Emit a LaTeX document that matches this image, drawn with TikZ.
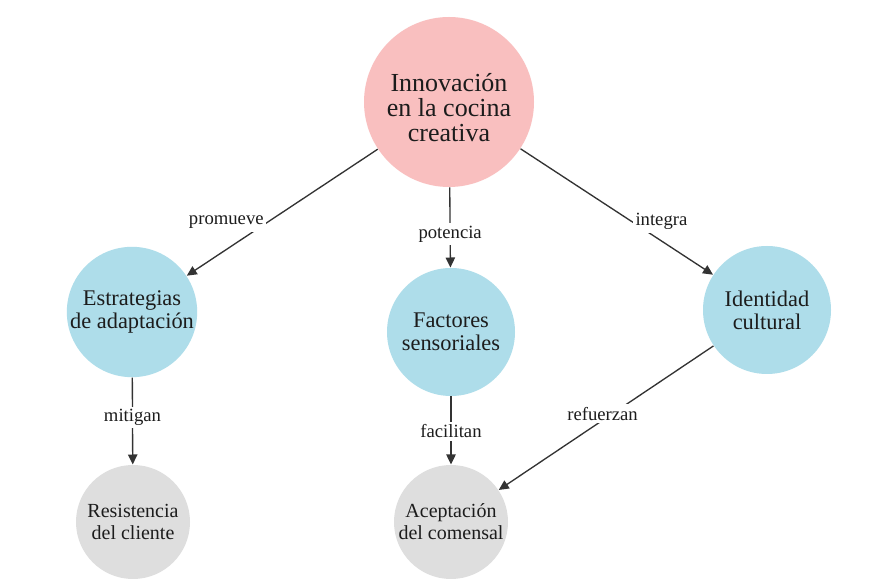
\documentclass[tikz,border=0pt]{standalone}
\usepackage{fontspec}
\setmainfont{Liberation Serif}
\usetikzlibrary{arrows.meta}

\definecolor{rootpink}{RGB}{249,191,191}
\definecolor{midblue}{RGB}{174,221,234}
\definecolor{leafgray}{RGB}{222,222,222}
\definecolor{edgegray}{RGB}{51,51,51}
\definecolor{inkblack}{RGB}{28,28,28}

\tikzset{every picture/.style={line width=0.75pt}}
\tikzset{
  rootnode/.style={circle, fill=rootpink, minimum size=127.5pt, inner sep=0pt, align=center, text=inkblack, text height=60pt, text depth=0pt, font=\fontsize{19.5}{19}\selectfont},
  midnode/.style={circle, fill=midblue, minimum size=96pt, inner sep=0pt, align=center, text=inkblack, font=\fontsize{16.8}{17.2}\selectfont},
  leafnode/.style={circle, fill=leafgray, minimum size=85.5pt, inner sep=0pt, align=center, text=inkblack, font=\fontsize{15}{16.5}\selectfont},
  link/.style={draw=edgegray, line width=1pt, -{Triangle[length=7.5pt,width=7pt]}},
  linklabel/.style={fill=white, inner sep=2pt, text=inkblack, font=\fontsize{14}{14}\selectfont}
}

\begin{document}
\begin{tikzpicture}[x=0.75pt,y=0.75pt,yscale=-1,xscale=1]
    \useasboundingbox[fill=white] (0,0) rectangle (886,584);

    % Circles
    \node [rootnode] (innov) at (449,102) {Innovación\\en la cocina\\creativa};
    \node [midnode] (estrat) at (132,312) {Estrategias\\de adaptación};
    \node [midnode] (factor) at (451,332) {Factores\\sensoriales};
    \node [midnode] (ident) at (767,310) {Identidad\\cultural};
    \node [leafnode] (resist) at (133,522) {Resistencia\\del cliente};
    \node [leafnode] (acept) at (451,522) {Aceptación\\del comensal};

    % Links
    \draw [link] (innov) -- node [linklabel, pos=0.58, anchor=east] {promueve} (estrat);
    \draw [link] (innov) -- node [linklabel, pos=0.58] {potencia} (factor);
    \draw [link] (innov) -- node [linklabel, pos=0.58, anchor=west] {integra} (ident);
    \draw [link] (estrat) -- node [linklabel, pos=0.46] {mitigan} (resist);
    \draw [link] (factor) -- node [linklabel, pos=0.51] {facilitan} (acept);
    \draw [link] (ident) -- node [linklabel, pos=0.47, xshift=-7.5pt] {refuerzan} (acept);

\end{tikzpicture}
\end{document}
